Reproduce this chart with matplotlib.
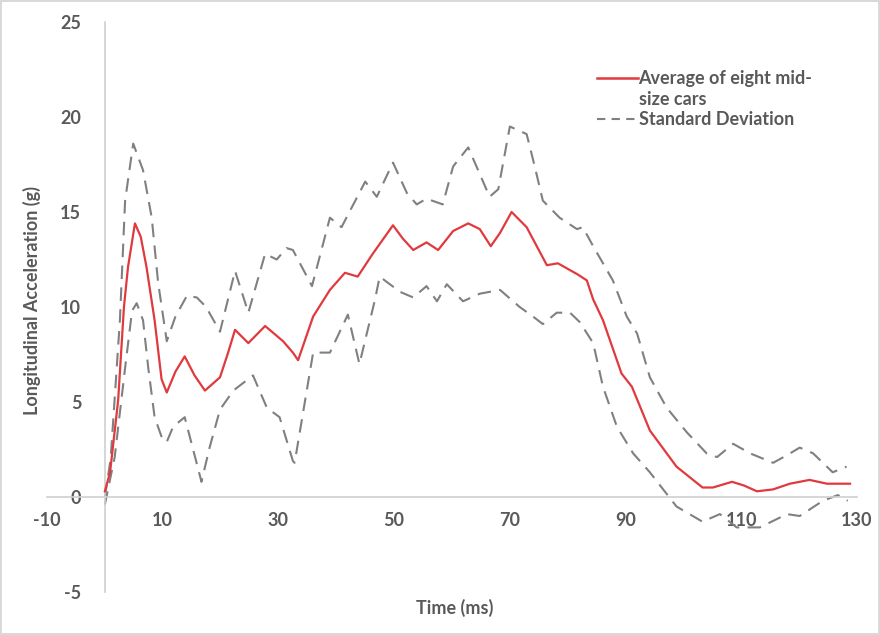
import matplotlib.pyplot as plt
from matplotlib.lines import Line2D

# mean longitudinal acceleration of eight mid-size cars
mean_t = [0, 0.9, 2.3, 3.3, 4.0, 5.2, 6.2, 7.2, 8.6, 9.8, 10.7, 12.2, 13.8, 15.5,
          17.3, 19.9, 21.2, 22.5, 24.8, 27.7, 30.8, 32.5, 33.4, 36.0, 38.9, 41.5,
          43.7, 46.3, 49.8, 51.5, 53.3, 55.6, 57.6, 60.2, 62.8, 64.8, 66.7, 68.3,
          70.3, 72.9, 76.4, 78.3, 81.8, 83.3, 84.4, 86.1, 89.3, 91.1, 94.2, 98.8,
          103.3, 105.1, 108.4, 110.5, 112.7, 115.5, 118.4, 121.8, 124.8, 128.8]
mean_g = [0.3, 1.3, 5.1, 10.0, 12.1, 14.4, 13.7, 12.1, 9.3, 6.2, 5.5, 6.6, 7.4, 6.4,
          5.6, 6.3, 7.5, 8.8, 8.1, 9.0, 8.2, 7.6, 7.2, 9.5, 10.9, 11.8,
          11.6, 12.8, 14.3, 13.6, 13.0, 13.4, 13.0, 14.0, 14.4, 14.1, 13.2, 13.9,
          15.0, 14.2, 12.2, 12.3, 11.7, 11.4, 10.4, 9.3, 6.5, 5.8, 3.5, 1.6,
          0.5, 0.5, 0.8, 0.6, 0.3, 0.4, 0.7, 0.9, 0.7, 0.7]

upper_t = [0, 1.0, 2.6, 3.5, 4.9, 6.6, 8.1, 9.2, 10.7, 12.2, 14.2, 15.9, 17.5,
           19.9, 22.5, 24.8, 27.7, 29.7, 31.4, 32.5, 35.8, 38.9, 40.9, 45.0, 47.0,
           49.8, 52.2, 53.9, 55.6, 58.4, 60.2, 62.8, 64.8, 66.5, 68.0, 70.0, 72.9,
           74.3, 75.7, 78.6, 81.6, 82.6, 84.4, 87.8, 90.2, 92.0, 94.2, 97.1, 100.6,
           104.0, 105.8, 108.6, 111.5, 115.5, 117.9, 120.1, 122.4, 125.8, 128.2]
upper_g = [0.0, 2.0, 9.3, 15.6, 18.6, 17.2, 14.7, 11.3, 8.2, 9.5, 10.6, 10.5, 10.0,
           8.7, 11.9, 9.7, 12.8, 12.5, 13.1, 13.0, 11.1, 14.7, 14.2, 16.6, 15.8,
           17.6, 16.0, 15.4, 15.7, 15.4, 17.4, 18.4, 17.0, 15.8, 16.2, 19.5, 19.1,
           17.4, 15.6, 14.7, 14.1, 14.2, 13.2, 11.4, 9.5, 8.6, 6.3, 4.7, 3.4,
           2.3, 2.1, 2.8, 2.3, 1.8, 2.2, 2.6, 2.3, 1.3, 1.6]

lower_t = [0, 1.7, 3.5, 4.7, 5.5, 6.6, 7.5, 8.6, 10.0, 10.7, 11.8, 13.8, 15.0,
           16.7, 18.1, 19.9, 22.2, 25.6, 28.0, 30.2, 32.5, 32.8, 36.0, 38.9, 42.0,
           44.0, 46.7, 47.5, 51.0, 53.3, 55.6, 57.4, 59.1, 61.9, 64.8, 68.3, 71.7,
           74.0, 75.7, 78.1, 80.4, 82.1, 84.4, 86.1, 88.5, 91.3, 94.2, 96.5, 98.8,
           103.3, 106.3, 109.2, 113.2, 117.9, 120.1, 124.1, 126.7, 128.4]
lower_g = [-0.4, 2.1, 6.8, 9.8, 10.2, 9.3, 6.8, 4.2, 3.0, 2.9, 3.7, 4.2, 2.8,
           0.8, 2.6, 4.6, 5.6, 6.4, 4.7, 4.2, 1.9, 1.8, 7.6, 7.6, 9.6,
           7.0, 10.4, 11.6, 10.8, 10.5, 11.1, 10.3, 11.2, 10.3, 10.7, 10.9, 10.0,
           9.5, 9.1, 9.7, 9.7, 9.2, 8.1, 5.8, 3.7, 2.3, 1.3, 0.4, -0.5,
           -1.3, -0.9, -1.6, -1.6, -0.9, -1.0, -0.2, 0.1, -0.2]

x_ticks = [-10, 10, 30, 50, 70, 90, 110, 130]
y_ticks = [-5, 0, 5, 10, 15, 20, 25]

TXT = "#595959"
RED = "#e0393e"
GREY = "#808080"

plt.rcParams["font.family"] = ["Lato", "DejaVu Sans"]
plt.rcParams["axes.unicode_minus"] = False

fig = plt.figure(figsize=(8.8, 6.35), dpi=100)
fig.patch.set_edgecolor("#d9d9d9")
fig.patch.set_linewidth(1.5)
ax = fig.add_axes([47 / 880, 43 / 635, 810 / 880, 570 / 635])

ax.plot(mean_t, mean_g, color=RED, lw=1.6, zorder=3)
ax.plot(upper_t, upper_g, color=GREY, lw=1.5, dashes=(6.5, 4))
ax.plot(lower_t, lower_g, color=GREY, lw=1.5, dashes=(6.5, 4))

ax.set_xlim(-10, 130)
ax.set_ylim(-5, 25)
ax.set_xticks(x_ticks)
ax.set_yticks(y_ticks)

for side in ["top", "right"]:
    ax.spines[side].set_visible(False)
ax.spines["left"].set_position(("data", 0))
ax.spines["bottom"].set_position(("data", 0))
for side in ["left", "bottom"]:
    ax.spines[side].set_color("#d0d0d0")
    ax.spines[side].set_linewidth(1.2)

ax.tick_params(axis="both", length=0, labelsize=13, labelcolor=TXT)
ax.tick_params(axis="y", pad=17)
ax.tick_params(axis="x", pad=11)
for lab in ax.get_xticklabels() + ax.get_yticklabels():
    lab.set_fontweight("bold")

fig.text(455 / 880, 1 - 608 / 635, "Time (ms)", ha="center", va="center",
         fontsize=13, fontweight="bold", color=TXT)
fig.text(32 / 880, 1 - 300 / 635, "Longitudinal Acceleration (g)", ha="center",
         va="center", rotation=90, fontsize=13, fontweight="bold", color=TXT)

handles = [Line2D([], [], color=RED, lw=1.8),
           Line2D([], [], color="none"),
           Line2D([], [], color=GREY, lw=1.5, dashes=(4, 3))]
labels = ["Average of eight mid-", "size cars", "Standard Deviation"]
leg = ax.legend(handles, labels, loc="upper left", bbox_to_anchor=(597 / 880, 1 - 70 / 635),
                bbox_transform=fig.transFigure, frameon=False, handlelength=2.25,
                handletextpad=0.05, labelspacing=0.2, borderaxespad=0, borderpad=0,
                prop={"size": 13, "weight": "bold"})
for t in leg.get_texts():
    t.set_color(TXT)

fig.savefig("out.png", dpi=100)
